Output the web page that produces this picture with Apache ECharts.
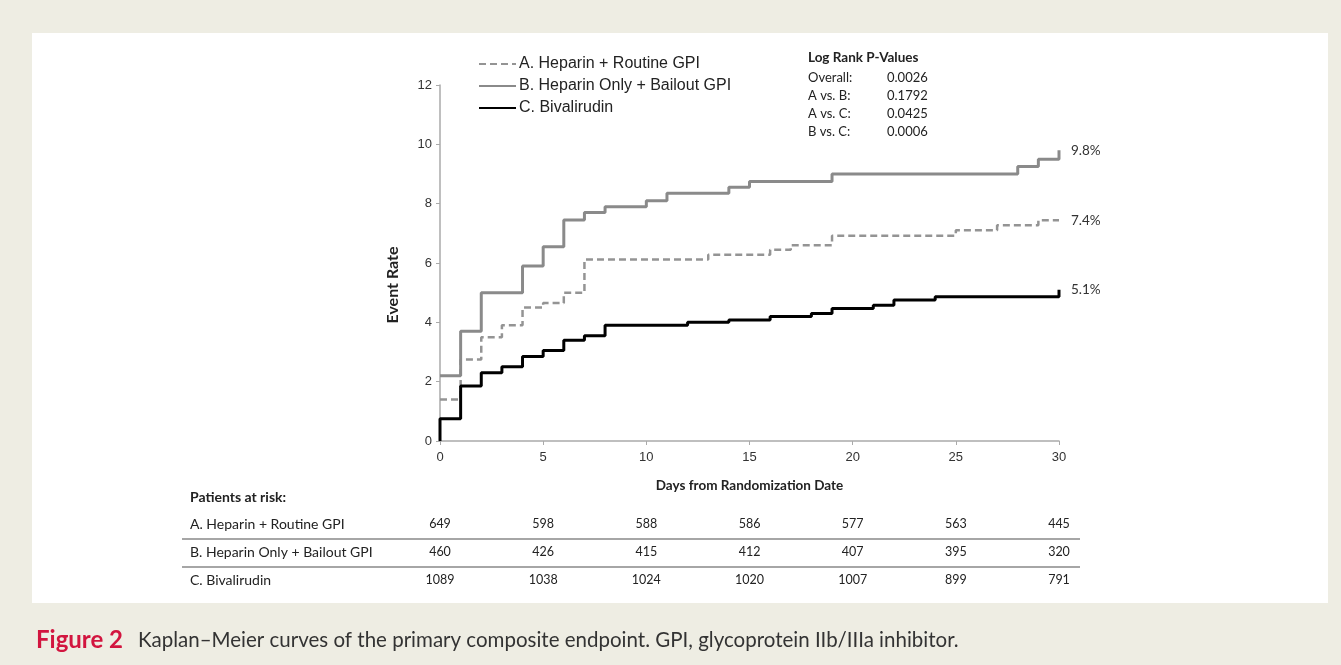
<!DOCTYPE html>
<html>
<head>
<meta charset="utf-8">
<title>Kaplan-Meier curves</title>
<script src="https://cdn.jsdelivr.net/npm/echarts@6/dist/echarts.min.js"></script>
<style>
  html, body { margin: 0; padding: 0; background: #eeede3; }
  #chart { width: 1341px; height: 665px; }
</style>
</head>
<body>
<div id="chart"></div>
<script>
  // step points [day, event rate %]
  const heparinRoutine = [[0, 1.4], [1, 2.75], [2, 3.5], [3, 3.9], [4, 4.5], [5, 4.65], [6, 5.0], [7, 6.12],
    [13, 6.28], [16, 6.45], [17, 6.6], [19, 6.92], [25, 7.1], [27, 7.27], [29, 7.44], [30, 7.44]]
  const heparinBailout = [[0, 2.2], [1, 3.7], [2, 5.0], [4, 5.9], [5, 6.55], [6, 7.45], [7, 7.7], [8, 7.9],
    [10, 8.1], [11, 8.35], [14, 8.55], [15, 8.75], [19, 9.0], [28, 9.25], [29, 9.5], [30, 9.8]]
  const bivalirudin = [[0, 0], [0, 0.75], [1, 1.85], [2, 2.3], [3, 2.5], [4, 2.85], [5, 3.05], [6, 3.4], [7, 3.55],
    [8, 3.9], [12, 4.0], [14, 4.08], [16, 4.2], [18, 4.3], [19, 4.47], [21, 4.58], [22, 4.75], [24, 4.86], [30, 5.1]]

  const seriesNames = ['A. Heparin + Routine GPI', 'B. Heparin Only + Bailout GPI', 'C. Bivalirudin']
  const endLabels = ['7.4%', '9.8%', '5.1%']

  const pLabels = ['Overall:', 'A vs. B:', 'A vs. C:', 'B vs. C:']
  const pValues = ['0.0026', '0.1792', '0.0425', '0.0006']

  const riskDays = [0, 5, 10, 15, 20, 25, 30]
  const riskA = [649, 598, 588, 586, 577, 563, 445]
  const riskB = [460, 426, 415, 412, 407, 395, 320]
  const riskC = [1089, 1038, 1024, 1020, 1007, 899, 791]

  const calibri = 'Lato, "Open Sans", sans-serif'
  const arial = '"Liberation Sans", Arial, sans-serif'

  const myChart = echarts.init(document.getElementById('chart'))

  function lineSeries(name, data, color, width, type, label) {
    return {
      name: name,
      type: 'line',
      step: 'end',
      data: data,
      symbol: 'none',
      showSymbol: false,
      animation: false,
      lineStyle: { color: color, width: width, type: type },
      itemStyle: { color: color },
      endLabel: {
        show: true,
        formatter: label,
        distance: 12,
        color: '#333',
        fontFamily: calibri,
        fontSize: 13.5
      }
    }
  }

  myChart.setOption({
    backgroundColor: '#eeede3',
    animation: false,
    grid: { left: 440, right: 282, top: 85, bottom: 224 },
    legend: {
      left: 478,
      top: 56,
      padding: 0,
      orient: 'vertical',
      itemWidth: 37,
      itemHeight: 14,
      itemGap: 6,
      itemStyle: { opacity: 0 },
      textStyle: { fontFamily: arial, fontSize: 16, color: '#222', padding: [0, 0, 0, -2] },
      data: seriesNames
    },
    xAxis: {
      type: 'value',
      min: 0,
      max: 30,
      interval: 5,
      name: 'Days from Randomization Date',
      nameLocation: 'middle',
      nameGap: 38,
      nameTextStyle: { fontFamily: calibri, fontWeight: 'bold', fontSize: 13.5, color: '#222' },
      axisLine: { lineStyle: { color: '#aaa', width: 1.5 } },
      axisTick: { show: true, length: 4, lineStyle: { color: '#aaa' } },
      axisLabel: { fontFamily: arial, fontSize: 13, color: '#333', margin: 10 },
      splitLine: { show: false }
    },
    yAxis: {
      type: 'value',
      min: 0,
      max: 12,
      interval: 2,
      axisLine: { show: true, lineStyle: { color: '#aaa', width: 1.5 } },
      axisTick: { show: true, length: 4, lineStyle: { color: '#aaa' } },
      axisLabel: { fontFamily: arial, fontSize: 13, color: '#333', margin: 8 },
      splitLine: { show: false }
    },
    series: [
      lineSeries(seriesNames[0], heparinRoutine, '#949494', 2.5, [7, 4], endLabels[0]),
      lineSeries(seriesNames[1], heparinBailout, '#8a8a8a', 3, 'solid', endLabels[1]),
      lineSeries(seriesNames[2], bivalirudin, '#000', 3, 'solid', endLabels[2])
    ]
  })

  /* extra graphics: panel, y title, p-values, table, caption */
  const graphics = []
  graphics.push({
    type: 'rect', z: -10, silent: true,
    shape: { x: 32, y: 33, width: 1296, height: 570 },
    style: { fill: '#fff' }
  })
  graphics.push({
    type: 'text', x: 393, y: 285, rotation: Math.PI / 2,
    style: { text: 'Event Rate', font: 'bold 16px ' + calibri, fill: '#222', align: 'center', verticalAlign: 'middle' }
  })
  graphics.push({
    type: 'text', left: 808, top: 51,
    style: { text: 'Log Rank P-Values', font: 'bold 13.5px ' + calibri, fill: '#222' }
  })
  pLabels.forEach((lab, i) => {
    graphics.push({ type: 'text', x: 808, y: 78 + i * 18, style: { text: lab, font: '13px ' + calibri, fill: '#222', verticalAlign: 'middle' } })
    graphics.push({ type: 'text', x: 887, y: 78 + i * 18, style: { text: pValues[i], font: '13px ' + calibri, fill: '#222', verticalAlign: 'middle' } })
  })

  // patients at risk table
  graphics.push({
    type: 'text', x: 190, y: 497,
    style: { text: 'Patients at risk:', font: 'bold 14px ' + calibri, fill: '#222', verticalAlign: 'middle' }
  })
  const rows = [riskA, riskB, riskC]
  const rowY = [524, 552, 580]
  rows.forEach((vals, r) => {
    graphics.push({
      type: 'text', x: 190, y: rowY[r],
      style: { text: seriesNames[r], font: '14px ' + calibri, fill: '#222', verticalAlign: 'middle' }
    })
    vals.forEach((v, i) => {
      const px = myChart.convertToPixel({ xAxisIndex: 0 }, riskDays[i])
      graphics.push({
        type: 'text', x: px, y: rowY[r],
        style: { text: String(v), font: '12.5px ' + calibri, fill: '#222', align: 'center', verticalAlign: 'middle' }
      })
    })
  })
  ;[539, 567].forEach(y => {
    graphics.push({
      type: 'line',
      shape: { x1: 182, y1: y, x2: 1080, y2: y },
      style: { stroke: '#888', lineWidth: 1.5 }
    })
  })

  // figure caption
  graphics.push({
    type: 'text', x: 36, y: 640,
    style: { text: 'Figure 2', font: 'bold 24px ' + calibri, fill: '#d2153f', verticalAlign: 'middle' }
  })
  graphics.push({
    type: 'text', x: 138, y: 640,
    style: {
      text: 'Kaplan\u2013Meier curves of the primary composite endpoint. GPI, glycoprotein IIb/IIIa inhibitor.',
      font: '20.5px ' + calibri, fill: '#333', verticalAlign: 'middle'
    }
  })

  myChart.setOption({ graphic: graphics })
</script>
</body>
</html>
